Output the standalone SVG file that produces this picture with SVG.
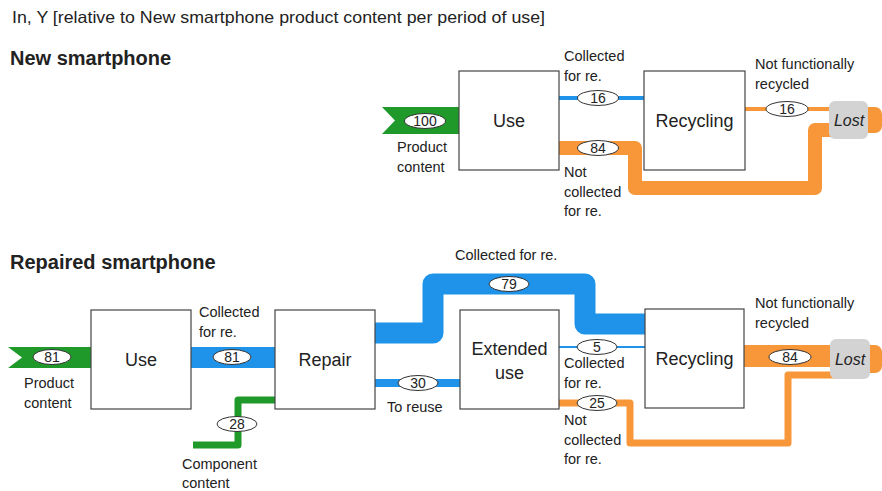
<svg xmlns="http://www.w3.org/2000/svg" width="882" height="491" viewBox="0 0 882 491">
<style>
text{font-family:"Liberation Sans",Arial,sans-serif;fill:#222}
.t{font-size:16.5px}
.h{font-size:20px;font-weight:bold}
.n{font-size:18px;text-anchor:middle}
.l{font-size:14.5px}
.v{font-size:14px;text-anchor:middle}
.box{fill:#fff;stroke:#444;stroke-width:1.2}
.lost{fill:#d3d3d3}
.ov{fill:#fff;stroke:#333;stroke-width:1}
.g{fill:#1f9a2a}
.b{stroke:#1f93ea;fill:none}
.o{stroke:#f7973a;fill:none}
.lt{font-size:16px;font-style:italic;text-anchor:middle}
</style>
<rect width="882" height="491" fill="#fff"/>
<text class="t" x="12" y="23" textLength="533" lengthAdjust="spacingAndGlyphs">In, Y [relative to New smartphone product content per period of use]</text>
<text class="h" x="10" y="65">New smartphone</text>
<text class="h" x="10" y="269">Repaired smartphone</text>

<g id="connectors">
  <!-- top -->
  <polygon class="g" points="382,107 459,107 459,134 382,134 395,120.5"/>
  <line class="b" x1="559" y1="98" x2="645" y2="98" stroke-width="4"/>
  <path class="o" d="M559,148 H635 V188 H815 V130 H840" stroke-width="14" stroke-linejoin="round"/>
  <line class="o" x1="745" y1="109" x2="832" y2="109" stroke-width="4"/>
  <rect x="852" y="107" width="30" height="26" rx="7" fill="#f7973a"/>
  <!-- bottom -->
  <polygon class="g" points="8,347 91,347 91,368 8,368 22,357.5"/>
  <rect x="191" y="347" width="84" height="21" fill="#1f93ea"/>
  <path d="M275,400 H238 V445 H193" stroke="#1f9a2a" stroke-width="7" fill="none" stroke-linejoin="round"/>
  <path class="b" d="M375,333 H433 V284 H585 V324 H645" stroke-width="21" stroke-linejoin="round"/>
  <line class="b" x1="375" y1="383" x2="460" y2="383" stroke-width="8"/>
  <line class="b" x1="559" y1="347" x2="645" y2="347" stroke-width="2"/>
  <path class="o" d="M559,403 H630 V443 H788 V375 H840" stroke-width="7" stroke-linejoin="round"/>
  <line class="o" x1="744" y1="356" x2="840" y2="356" stroke-width="22"/>
  <rect x="855" y="345" width="27" height="28" rx="7" fill="#f7973a"/>

  <!-- value ovals -->
  <ellipse class="ov" cx="425" cy="121" rx="20.5" ry="7.5"/><text class="v" x="425" y="126">100</text>
  <ellipse class="ov" cx="598" cy="98" rx="20.5" ry="7.5"/><text class="v" x="598" y="103">16</text>
  <ellipse class="ov" cx="598" cy="148" rx="20.5" ry="7.5"/><text class="v" x="598" y="153">84</text>
  <ellipse class="ov" cx="787" cy="109" rx="21" ry="7.5"/><text class="v" x="787" y="114">16</text>
  <ellipse class="ov" cx="52" cy="357" rx="19" ry="7.5"/><text class="v" x="52" y="362">81</text>
  <ellipse class="ov" cx="232" cy="357" rx="19" ry="7.5"/><text class="v" x="232" y="362">81</text>
  <ellipse class="ov" cx="237" cy="424" rx="20" ry="7.5"/><text class="v" x="237" y="429">28</text>
  <ellipse class="ov" cx="509" cy="284" rx="20" ry="7.5"/><text class="v" x="509" y="289">79</text>
  <ellipse class="ov" cx="418" cy="383" rx="20" ry="7.5"/><text class="v" x="418" y="388">30</text>
  <ellipse class="ov" cx="597" cy="347" rx="20" ry="7.5"/><text class="v" x="597" y="352">5</text>
  <ellipse class="ov" cx="597" cy="403" rx="20" ry="7.5"/><text class="v" x="597" y="408">25</text>
  <ellipse class="ov" cx="790" cy="357" rx="21" ry="7.5"/><text class="v" x="790" y="362">84</text>

  <!-- labels -->
  <text class="l" x="564" y="61">Collected</text><text class="l" x="564" y="81">for re.</text>
  <text class="l" x="564" y="177">Not</text><text class="l" x="564" y="197">collected</text><text class="l" x="564" y="216">for re.</text>
  <text class="l" x="755" y="69">Not functionally</text><text class="l" x="755" y="89">recycled</text>
  <text class="l" x="397" y="152">Product</text><text class="l" x="397" y="172">content</text>
  <text class="l" x="24" y="388">Product</text><text class="l" x="24" y="408">content</text>
  <text class="l" x="199" y="317">Collected</text><text class="l" x="199" y="337">for re.</text>
  <text class="l" x="182" y="469">Component</text><text class="l" x="182" y="488">content</text>
  <text class="l" x="455" y="260">Collected for re.</text>
  <text class="l" x="387" y="412">To reuse</text>
  <text class="l" x="564" y="368">Collected</text><text class="l" x="564" y="388">for re.</text>
  <text class="l" x="564" y="425">Not</text><text class="l" x="564" y="445">collected</text><text class="l" x="564" y="464">for re.</text>
  <text class="l" x="755" y="308">Not functionally</text><text class="l" x="755" y="328">recycled</text>
</g>

<g id="new-use"><rect class="box" x="459" y="71" width="100" height="99"/><text class="n" x="509" y="127">Use</text></g>
<g id="new-recycling"><rect class="box" x="644" y="71" width="101" height="99"/><text class="n" x="694.5" y="127">Recycling</text></g>
<g id="new-lost"><rect class="lost" x="829" y="101" width="39" height="38" rx="6"/><text class="lt" x="849" y="126">Lost</text></g>

<g id="rep-use"><rect class="box" x="91" y="310" width="100" height="99"/><text class="n" x="141" y="366">Use</text></g>
<g id="rep-repair"><rect class="box" x="275" y="310" width="100" height="99"/><text class="n" x="325" y="366">Repair</text></g>
<g id="rep-extended"><rect class="box" x="460" y="310" width="99" height="99"/><text class="n" x="509.5" y="355">Extended</text><text class="n" x="509.5" y="379">use</text></g>
<g id="rep-recycling"><rect class="box" x="645" y="309" width="99" height="99"/><text class="n" x="694.5" y="365">Recycling</text></g>
<g id="rep-lost"><rect class="lost" x="830" y="339" width="40" height="40" rx="6"/><text class="lt" x="850" y="365">Lost</text></g>
</svg>
